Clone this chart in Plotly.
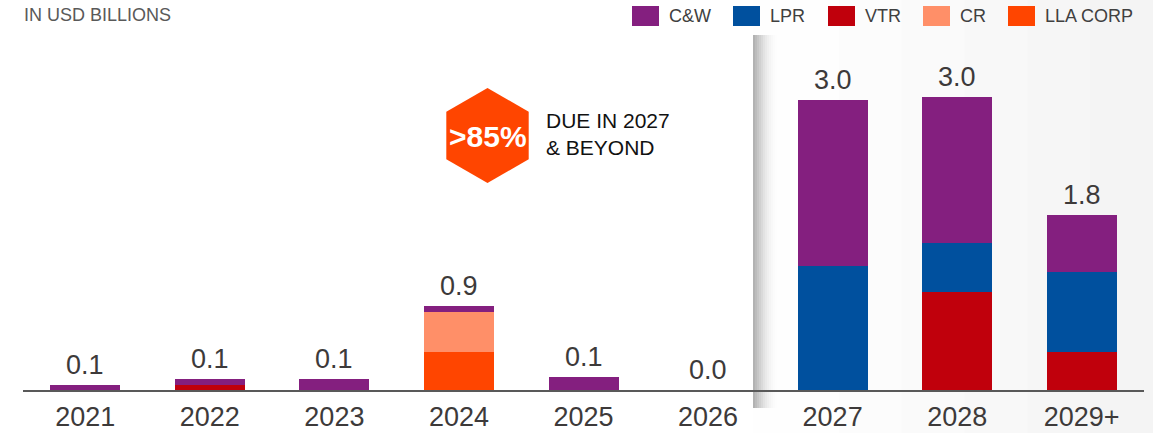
import plotly.graph_objects as go

# Data ---------------------------------------------------
categories = ["2021", "2022", "2023", "2024", "2025", "2026", "2027", "2028", "2029+"]
cw = [0.05, 0.06, 0.11, 0.06, 0.13, 0.0, 1.70, 1.50, 0.59]
lpr = [0.0, 0.0, 0.0, 0.0, 0.0, 0.0, 1.27, 0.50, 0.82]
vtr = [0.0, 0.055, 0.0, 0.0, 0.0, 0.0, 0.0, 1.01, 0.39]
cr = [0.0, 0.0, 0.0, 0.41, 0.0, 0.0, 0.0, 0.0, 0.0]
lla = [0.0, 0.0, 0.0, 0.39, 0.0, 0.0, 0.0, 0.0, 0.0]
total_labels = ["0.1", "0.1", "0.1", "0.9", "0.1", "0.0", "3.0", "3.0", "1.8"]

series_names = ["C&W", "LPR", "VTR", "CR", "LLA CORP"]
colors = {"C&W": "#841f7f", "LPR": "#00509e", "VTR": "#c0000c",
          "CR": "#ff8f68", "LLA CORP": "#ff4500"}
values = {"C&W": cw, "LPR": lpr, "VTR": vtr, "CR": cr, "LLA CORP": lla}

# Layout geometry ---------------------------------------
W, H = 1153, 433
ML, MR, MT, MB = 23, 9, 40, 43
PW, PH = W - ML - MR, H - MT - MB
FONT = "Arial, Liberation Sans, sans-serif"


def px(x):
    # pixel x -> paper coordinate
    return (x - ML) / PW


def py(y):
    # pixel y (from top) -> paper coordinate
    return (H - MB - y) / PH


# category positions (numeric, so "2021" is never read as a number on the axis)
xpos = list(range(len(categories)))

fig = go.Figure()

# stack bottom -> top
for name in ["LLA CORP", "CR", "VTR", "LPR", "C&W"]:
    fig.add_trace(go.Bar(x=xpos, y=values[name], name=name,
                         marker=dict(color=colors[name], line=dict(width=0)),
                         showlegend=False))

totals = [sum(v) for v in zip(cw, lpr, vtr, cr, lla)]
annotations = []
for c, t, lab in zip(xpos, totals, total_labels):
    annotations.append(dict(x=c, y=t, text=lab, showarrow=False, yanchor="bottom",
                            yshift=3, font=dict(size=27, color="#3d3a3a", family=FONT)))

shapes = []
# light background on the right side
bg_steps = ["#fefefe", "#fcfcfc", "#fafafa", "#f8f8f8", "#f6f6f6", "#f4f4f4"]
x0 = 776
step = (W - x0) / len(bg_steps)
for i, col in enumerate(bg_steps):
    shapes.append(dict(type="rect", xref="paper", yref="paper", layer="below",
                       x0=px(x0 + i * step), x1=px(x0 + (i + 1) * step + 1),
                       y0=py(H), y1=py(0), fillcolor=col, line=dict(width=0)))
shapes.append(dict(type="rect", xref="paper", yref="paper", layer="below",
                   x0=px(753), x1=px(777), y0=py(H), y1=py(0),
                   fillcolor="#fefefe", line=dict(width=0)))
# fold shadow
shadow = ["#b2b2b2", "#bcbcbc", "#c6c6c6", "#d0d0d0", "#d9d9d9", "#e2e2e2",
          "#e9e9e9", "#efefef", "#f4f4f4", "#f8f8f8", "#fbfbfb", "#fdfdfd"]
for i, col in enumerate(shadow):
    shapes.append(dict(type="rect", xref="paper", yref="paper", layer="below",
                       x0=px(753 + 2 * i), x1=px(755 + 2 * i), y0=py(408), y1=py(35),
                       fillcolor=col, line=dict(width=0)))

# hexagon badge
hx, hy, r = 487.5, 135.5, 47.5
hexpts = [(hx, hy - r), (hx + 41.2, hy - r / 2), (hx + 41.2, hy + r / 2),
          (hx, hy + r), (hx - 41.2, hy + r / 2), (hx - 41.2, hy - r / 2)]
path = "M " + " L ".join(f"{px(a):.5f},{py(b):.5f}" for a, b in hexpts) + " Z"
shapes.append(dict(type="path", xref="paper", yref="paper", path=path,
                   fillcolor="#ff4500", line=dict(width=0)))
annotations.append(dict(xref="paper", yref="paper", x=px(hx), y=py(hy + 1), text="<b>&gt;85%</b>",
                        showarrow=False, xanchor="center", yanchor="middle",
                        font=dict(size=30, color="white", family=FONT)))
annotations.append(dict(xref="paper", yref="paper", x=px(544), y=py(134), align="left",
                        text="DUE IN 2027<br>& BEYOND", showarrow=False,
                        xanchor="left", yanchor="middle",
                        font=dict(size=21, color="#111111", family=FONT)))

# unit note
annotations.append(dict(xref="paper", yref="paper", x=px(23), y=py(15), text="IN USD BILLIONS",
                        showarrow=False, xanchor="left", yanchor="middle", borderpad=0,
                        font=dict(size=18, color="#595959", family=FONT)))

# legend, drawn by hand
leg_x = [632, 733, 828, 923, 1008]
for name, lx in zip(series_names, leg_x):
    shapes.append(dict(type="rect", xref="paper", yref="paper",
                       x0=px(lx), x1=px(lx + 27), y0=py(26), y1=py(6),
                       fillcolor=colors[name], line=dict(width=0)))
    annotations.append(dict(xref="paper", yref="paper", x=px(lx + 36), y=py(16), text=name,
                            showarrow=False, xanchor="left", yanchor="middle", borderpad=0,
                            font=dict(size=18, color="#404040", family=FONT)))

fig.update_layout(
    width=W, height=H,
    margin=dict(l=ML, r=MR, t=MT, b=MB, pad=0, autoexpand=False),
    barmode="stack", bargap=0.438,
    paper_bgcolor="white", plot_bgcolor="rgba(0,0,0,0)",
    font=dict(family=FONT, color="#3d3a3a"),
    shapes=shapes, annotations=annotations,
    xaxis=dict(range=[-0.5, len(categories) - 0.5], tickvals=xpos, ticktext=categories,
               automargin=False,
               showgrid=False, zeroline=False, showline=True, linecolor="#595959", linewidth=2,
               tickfont=dict(size=27, color="#3d3a3a"), ticks="", ticklabelstandoff=2),
    yaxis=dict(range=[0, 3.59], visible=False, showgrid=False, zeroline=False,
               automargin=False),
)

# drop the default 8px page margin so the figure fills the window exactly
fig.write_html("out.html", config={"displayModeBar": False},
               post_script="document.body.style.margin = '0';")
